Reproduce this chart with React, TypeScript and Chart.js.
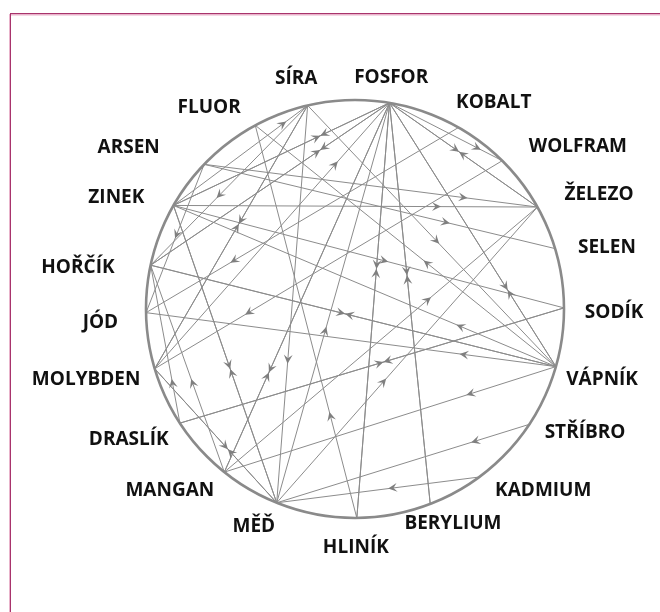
import React, { useEffect, useRef } from 'react';
import { Chart, registerables } from 'chart.js';

Chart.register(...registerables);

// Node names around the circle
const nodeNames = ['FOSFOR', 'KOBALT', 'WOLFRAM', 'ŽELEZO', 'SELEN', 'SODÍK', 'VÁPNÍK', 'STŘÍBRO', 'KADMIUM', 'BERYLIUM', 'HLINÍK', 'MĚĎ', 'MANGAN', 'DRASLÍK', 'MOLYBDEN', 'JÓD', 'HOŘČÍK', 'ZINEK', 'ARSEN', 'FLUOR', 'SÍRA'];
// Angle of every node on the circle (degrees, counter-clockwise from the right)
const nodeAngles = [80.5, 60.3, 45.2, 29.2, 16.8, 0.3, -16, -33.5, -53.5, -68.9, -89.5, -112, -128.7, -146.9, -163.4, 181, 167.9, 150.3, 136.2, 118.5, 103.1];

// Directed links: source -> target, and where along the link the arrow sits (0..1 from source)
const linkFrom = ['FOSFOR', 'ZINEK', 'FOSFOR', 'HOŘČÍK', 'MOLYBDEN', 'FOSFOR', 'HLINÍK', 'FOSFOR', 'BERYLIUM', 'FOSFOR', 'VÁPNÍK', 'FOSFOR', 'FOSFOR', 'ŽELEZO', 'VÁPNÍK', 'VÁPNÍK', 'VÁPNÍK', 'VÁPNÍK', 'HLINÍK', 'WOLFRAM', 'ZINEK', 'ZINEK', 'ARSEN', 'ARSEN', 'SÍRA', 'SÍRA', 'ZINEK', 'MĚĎ', 'KADMIUM', 'STŘÍBRO', 'DRASLÍK', 'MANGAN', 'MĚĎ', 'MOLYBDEN', 'HOŘČÍK', 'VÁPNÍK', 'KOBALT', 'MANGAN', 'FOSFOR', 'SÍRA', 'MĚĎ', 'DRASLÍK', 'SODÍK', 'SÍRA', 'MOLYBDEN', 'ZINEK', 'MANGAN', 'MĚĎ', 'ARSEN'];
const linkTo = ['ZINEK', 'FOSFOR', 'HOŘČÍK', 'FOSFOR', 'FOSFOR', 'HLINÍK', 'FOSFOR', 'BERYLIUM', 'FOSFOR', 'VÁPNÍK', 'FOSFOR', 'WOLFRAM', 'ŽELEZO', 'FOSFOR', 'FLUOR', 'ZINEK', 'JÓD', 'MANGAN', 'FLUOR', 'MOLYBDEN', 'SÍRA', 'ŽELEZO', 'SELEN', 'ŽELEZO', 'VÁPNÍK', 'HOŘČÍK', 'MĚĎ', 'ZINEK', 'MĚĎ', 'MĚĎ', 'HOŘČÍK', 'HOŘČÍK', 'MOLYBDEN', 'MĚĎ', 'VÁPNÍK', 'HOŘČÍK', 'JÓD', 'FOSFOR', 'MANGAN', 'MĚĎ', 'FOSFOR', 'SODÍK', 'DRASLÍK', 'MOLYBDEN', 'SÍRA', 'SODÍK', 'ŽELEZO', 'ŽELEZO', 'JÓD'];
const arrowAt = [0.32, 0.68, 0.29, 0.71, 0.78, 0.40, 0.60, 0.43, 0.57, 0.71, 0.29, 0.81, 0.47, 0.53, 0.44, 0.26, 0.235, 0.27, 0.27, 0.74, 0.84, 0.735, 0.70, 0.79, 0.53, 0.58, 0.55, 0.45, 0.45, 0.23, 0.28, 0.45, 0.40, 0.60, 0.48, 0.52, 0.73, 0.27, 0.73, 0.65, 0.44, 0.53, 0.47, 0.45, 0.55, 0.55, 0.66, 0.42, 0.5];

// Label placement (polar, in circle radii / degrees)
const labelAngle = [81.1, 56.1, 36.1, 25.2, 13.6, -0.7, -16, -28.3, -43.9, -65.5, -89.8, -114.9, -135.6, -150, -165.3, -177, 171.6, 155, 144.5, 125.9, 104.3];
const labelRadius = [1.12, 1.19, 1.32, 1.29, 1.24, 1.24, 1.23, 1.25, 1.25, 1.13, 1.14, 1.15, 1.24, 1.25, 1.33, 1.22, 1.34, 1.26, 1.33, 1.19, 1.14];

const R_PX = 209;
const CX = 355;
const CY = 309;
const W = 660;
const H = 612;

const XMIN = -CX / R_PX;
const XMAX = (W - CX) / R_PX;
const YMAX = CY / R_PX;
const YMIN = -(H - CY) / R_PX;

const pos = (name: string) => {
  const i = nodeNames.indexOf(name);
  const a = (nodeAngles[i] * Math.PI) / 180;
  return { x: Math.cos(a), y: Math.sin(a) };
};

const EDGE_COLOR = '#8c8c8c';

export default function App() {
  const ref = useRef<HTMLCanvasElement | null>(null);

  useEffect(() => {
    if (!ref.current) return;
    const datasets: any[] = linkFrom.map((f, i) => ({
      label: f + '→' + linkTo[i],
      data: [pos(f), pos(linkTo[i])],
      showLine: true,
      borderColor: EDGE_COLOR,
      borderWidth: 1,
      pointRadius: 0,
      pointHoverRadius: 0,
    }));

    const framePlugin = {
      id: 'frame',
      beforeDraw(chart: any) {
        const ctx = chart.ctx;
        ctx.save();
        ctx.fillStyle = '#ffffff';
        ctx.fillRect(0, 0, chart.width, chart.height);
        ctx.fillStyle = '#e9b3cb';
        ctx.fillRect(9, 14, chart.width - 9, 1.5);
        ctx.fillRect(9, 14, 1.2, chart.height - 14);
        ctx.fillStyle = '#a8346c';
        ctx.fillRect(10, 13, chart.width - 10, 1);
        ctx.fillRect(10, 13, 1, chart.height - 13);
        ctx.restore();
      },
    };

    const circlePlugin = {
      id: 'ring',
      afterDatasetsDraw(chart: any) {
        const ctx = chart.ctx;
        const xs = chart.scales.x;
        const ys = chart.scales.y;
        const cx = xs.getPixelForValue(0);
        const cy = ys.getPixelForValue(0);
        const r = xs.getPixelForValue(1) - cx;
        ctx.save();
        // arrows
        ctx.fillStyle = '#7f7f7f';
        linkFrom.forEach((f, i) => {
          const a = pos(f);
          const b = pos(linkTo[i]);
          const ax = xs.getPixelForValue(a.x), ay = ys.getPixelForValue(a.y);
          const bx = xs.getPixelForValue(b.x), by = ys.getPixelForValue(b.y);
          const t = arrowAt[i];
          const px = ax + (bx - ax) * t;
          const py = ay + (by - ay) * t;
          const len = Math.hypot(bx - ax, by - ay);
          const ux = (bx - ax) / len, uy = (by - ay) / len;
          const nx = -uy, ny = ux;
          const L = 9, Wd = 4.4;
          ctx.beginPath();
          ctx.moveTo(px, py);
          ctx.lineTo(px - ux * L + nx * Wd, py - uy * L + ny * Wd);
          ctx.lineTo(px - ux * L * 0.6, py - uy * L * 0.6);
          ctx.lineTo(px - ux * L - nx * Wd, py - uy * L - ny * Wd);
          ctx.closePath();
          ctx.fill();
        });
        // ring
        ctx.beginPath();
        ctx.arc(cx, cy, r, 0, Math.PI * 2);
        ctx.strokeStyle = '#8a8a8a';
        ctx.lineWidth = 2.6;
        ctx.stroke();
        // labels
        ctx.fillStyle = '#111111';
        ctx.font = 'bold 19px "Open Sans", sans-serif';
        ctx.textAlign = 'center';
        ctx.textBaseline = 'middle';
        nodeNames.forEach((n, i) => {
          const a = (labelAngle[i] * Math.PI) / 180;
          const lx = xs.getPixelForValue(Math.cos(a) * labelRadius[i]);
          const ly = ys.getPixelForValue(Math.sin(a) * labelRadius[i]);
          ctx.fillText(n, lx, ly);
        });
        ctx.restore();
      },
    };

    const chart = new Chart(ref.current, {
      type: 'scatter',
      data: { datasets },
      options: {
        animation: false,
        responsive: false,
        layout: { padding: 0 },
        plugins: { legend: { display: false }, tooltip: { enabled: false } },
        scales: {
          x: { type: 'linear', min: XMIN, max: XMAX, display: false },
          y: { type: 'linear', min: YMIN, max: YMAX, display: false },
        },
      },
      plugins: [framePlugin, circlePlugin],
    });
    return () => chart.destroy();
  }, []);

  return (
    <div style={{ position: 'absolute', left: 0, top: 0, width: W, height: H }}>
      <canvas ref={ref} width={W} height={H} style={{ display: 'block' }} />
    </div>
  );
}
